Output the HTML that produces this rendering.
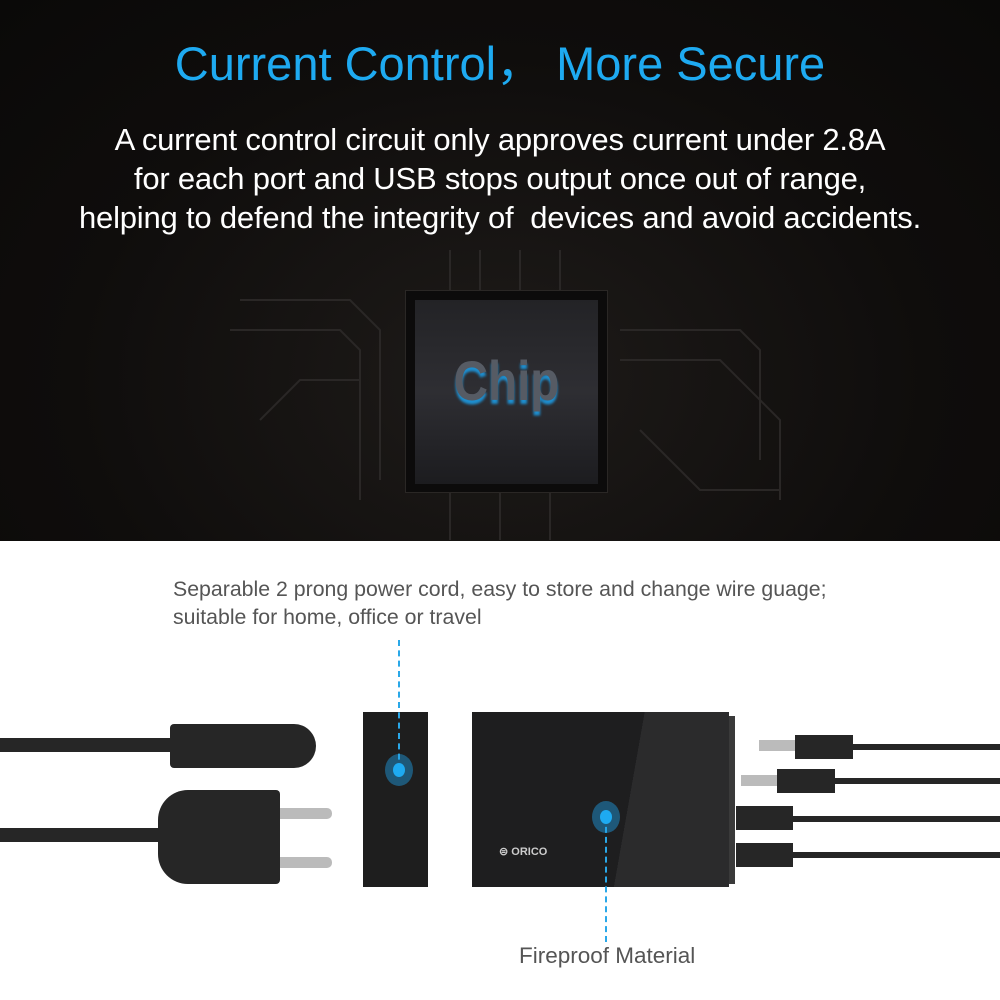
<!DOCTYPE html>
<html><head><style>
body{margin:0;width:1000px;height:1000px;position:relative;overflow:hidden;font-family:"Liberation Sans",sans-serif}
.top{position:absolute;left:0;top:0;width:1000px;height:541px;background:radial-gradient(ellipse at 50% 70%,#1e1b19 0%,#0f0d0c 60%,#0a0908 100%)}
.h1{position:absolute;top:25px;width:1000px;text-align:center;color:#1eaaf1;font-size:47px}
.p{position:absolute;top:120px;width:1000px;text-align:center;color:#fff;font-size:31px;line-height:39px;letter-spacing:-0.2px}
.bot{position:absolute;left:0;top:541px;width:1000px;height:459px;background:#fff}
.a{position:absolute;background:#262626}
.t{position:absolute;color:#555;font-size:21.3px;line-height:28px}
</style></head><body>
<div class="top">
<svg width="1000" height="541" style="position:absolute;left:0;top:0" stroke="#2a2726" fill="none" stroke-width="2">
<path d="M240 300 H350 L380 330 V480 M230 330 H340 L360 350 V500 M260 420 L300 380 H360 M620 330 H740 L760 350 V460 M620 360 H720 L780 420 V500 M450 250 V290 M480 250 V290 M520 250 V290 M560 250 V290 M450 492 V540 M500 492 V540 M550 492 V540 M640 430 L700 490 H780"/>
</svg>
<div class="h1">Current Control，&nbsp;More Secure</div>
<div class="p">A current control circuit only approves current under 2.8A<br>for each port and USB stops output once out of range,<br>helping to defend the integrity of &nbsp;devices and avoid accidents.</div>
<div style="position:absolute;left:405px;top:290px;width:203px;height:203px;background:#0c0b0b;border:1px solid #2a2725;box-sizing:border-box"></div>
<div style="position:absolute;left:415px;top:300px;width:183px;height:184px;background:linear-gradient(#232326,#2e2e33 50%,#1c1c1f)"></div>
<div style="position:absolute;left:415px;top:348px;width:183px;text-align:center;font:bold 56px 'Liberation Sans Narrow','Liberation Sans',sans-serif;color:#565b64;transform:scaleX(0.85);text-shadow:0 4px 3px #1e8fd0">Chip</div>
</div>
<div class="bot"></div>
<div class="t" style="left:173px;top:575px">Separable 2 prong power cord, easy to store and change wire guage;<br>suitable for home, office or travel</div>
<div class="t" style="left:519px;top:942px;font-size:22.5px">Fireproof Material</div>
<div class="a" style="left:0;top:738px;width:175px;height:14px"></div>
<div class="a" style="left:170px;top:724px;width:146px;height:44px;border-radius:4px 22px 22px 4px"></div>
<div class="a" style="left:0;top:828px;width:160px;height:14px"></div>
<div class="a" style="left:158px;top:790px;width:122px;height:94px;border-radius:30px 4px 4px 30px"></div>
<div style="position:absolute;left:280px;top:808px;width:52px;height:11px;background:#bbb;border-radius:0 5px 5px 0"></div>
<div style="position:absolute;left:280px;top:857px;width:52px;height:11px;background:#bbb;border-radius:0 5px 5px 0"></div>
<div class="a" style="left:363px;top:712px;width:65px;height:175px;background:#1e1e1e"></div>
<div class="a" style="left:472px;top:712px;width:257px;height:175px;background:linear-gradient(100deg,#1e1e1f 60%,#2b2b2c 60%)"></div>
<div class="a" style="left:729px;top:716px;width:6px;height:168px;background:#3a3a3a"></div>
<div style="position:absolute;left:499px;top:845px;color:#ccc;font-size:11px;font-weight:bold">⊜ ORICO</div>
<div style="position:absolute;left:759px;top:740px;width:36px;height:11px;background:#bbb"></div>
<div class="a" style="left:795px;top:735px;width:58px;height:24px"></div>
<div class="a" style="left:853px;top:744px;width:147px;height:6px"></div>
<div style="position:absolute;left:741px;top:775px;width:36px;height:11px;background:#bbb"></div>
<div class="a" style="left:777px;top:769px;width:58px;height:24px"></div>
<div class="a" style="left:835px;top:778px;width:165px;height:6px"></div>
<div class="a" style="left:736px;top:806px;width:57px;height:24px"></div>
<div class="a" style="left:793px;top:816px;width:207px;height:6px"></div>
<div class="a" style="left:736px;top:843px;width:57px;height:24px"></div>
<div class="a" style="left:793px;top:852px;width:207px;height:6px"></div>
<div style="position:absolute;left:398px;top:640px;height:130px;border-left:2px dashed #2aa8e8"></div>
<div style="position:absolute;left:605px;top:817px;height:125px;border-left:2px dashed #2aa8e8"></div>
<div style="position:absolute;left:385px;top:754px;width:28px;height:32px;border-radius:50%;background:rgba(30,160,230,.45)"></div>
<div style="position:absolute;left:393px;top:763px;width:12px;height:14px;border-radius:50%;background:#1eaaf1"></div>
<div style="position:absolute;left:592px;top:801px;width:28px;height:32px;border-radius:50%;background:rgba(30,160,230,.45)"></div>
<div style="position:absolute;left:600px;top:810px;width:12px;height:14px;border-radius:50%;background:#1eaaf1"></div>
</body></html>
